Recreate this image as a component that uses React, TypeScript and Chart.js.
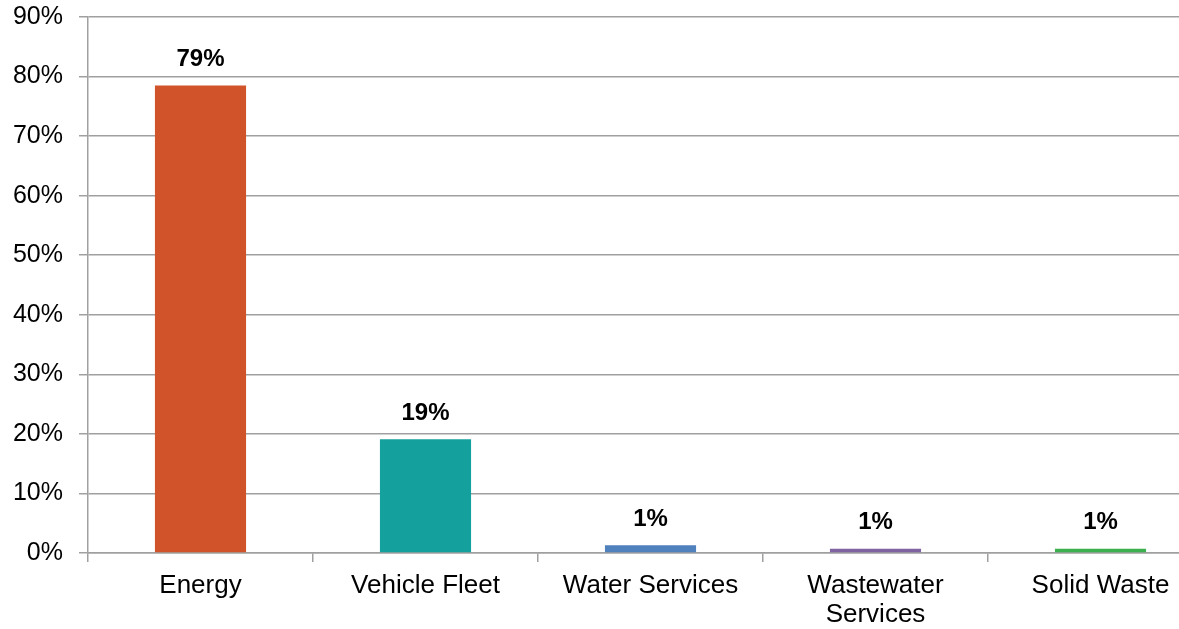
import React, { useEffect, useRef } from "react";
import { Chart, registerables } from "chart.js";

Chart.register(...registerables);

const categories: (string | string[])[] = [
  "Energy",
  "Vehicle Fleet",
  "Water Services",
  ["Wastewater", "Services"],
  "Solid Waste",
];
const shares: number[] = [78.5, 19.1, 1.3, 0.7, 0.7];
const shareLabels: string[] = ["79%", "19%", "1%", "1%", "1%"];
const barColors: string[] = ["#D0532A", "#14A19D", "#4F81BD", "#8064A2", "#3CB04E"];
const yMax = 90;
const yStep = 10;

const FONT = "'Liberation Sans', Arial, Helvetica, sans-serif";

const valueLabelPlugin = {
  id: "valueLabels",
  afterDatasetsDraw(chart: any) {
    const ctx = chart.ctx;
    const meta = chart.getDatasetMeta(0);
    ctx.save();
    ctx.font = `bold 24px ${FONT}`;
    ctx.fillStyle = "#000";
    ctx.textAlign = "center";
    ctx.textBaseline = "middle";
    meta.data.forEach((bar: any, i: number) => {
      ctx.fillText(shareLabels[i], bar.x, bar.y - 26);
    });
    ctx.restore();
  },
};

export default function App() {
  const ref = useRef<HTMLCanvasElement | null>(null);

  useEffect(() => {
    if (!ref.current) return;
    const chart = new Chart(ref.current, {
      type: "bar",
      data: {
        labels: categories,
        datasets: [
          {
            data: shares,
            backgroundColor: barColors,
            borderWidth: 0,
            categoryPercentage: 1,
            barPercentage: 0.405,
          },
        ],
      },
      options: {
        responsive: false,
        animation: false,
        devicePixelRatio: 1,
        layout: { padding: { top: 2, right: 7, left: 0, bottom: 0 } },
        plugins: {
          legend: { display: false },
          tooltip: { enabled: false },
        },
        scales: {
          x: {
            grid: {
              display: true,
              drawOnChartArea: false,
              drawTicks: true,
              tickLength: 9,
              color: "#a0a0a0",
              lineWidth: 1.5,
              offset: true,
            },
            border: { display: true, color: "#a0a0a0", width: 1.5 },
            ticks: {
              color: "#000",
              font: { family: FONT, size: 26, lineHeight: 1.1 },
              padding: 10,
              maxRotation: 0,
              autoSkip: false,
            },
            afterFit: (scale: any) => {
              scale.height = 110;
            },
          },
          y: {
            min: 0,
            max: yMax,
            grid: {
              color: "#a0a0a0",
              lineWidth: 1.5,
              tickLength: 9,
              drawTicks: true,
            },
            border: { display: true, color: "#a0a0a0", width: 1.5 },
            ticks: {
              stepSize: yStep,
              color: "#000",
              font: { family: FONT, size: 25 },
              padding: 16,
              callback: (v: any) => `${v}%`,
            },
            afterFit: (scale: any) => {
              scale.width = 88;
            },
          },
        },
      },
      plugins: [valueLabelPlugin],
    });
    return () => chart.destroy();
  }, []);

  return (
    <div
      style={{
        position: "fixed",
        left: 0,
        top: 0,
        width: 1179,
        height: 629,
        overflow: "hidden",
        background: "#fff",
      }}
    >
      <canvas
        ref={ref}
        width={1220}
        height={677}
        style={{ width: 1220, height: 677, display: "block", marginTop: -14 }}
      />
    </div>
  );
}
